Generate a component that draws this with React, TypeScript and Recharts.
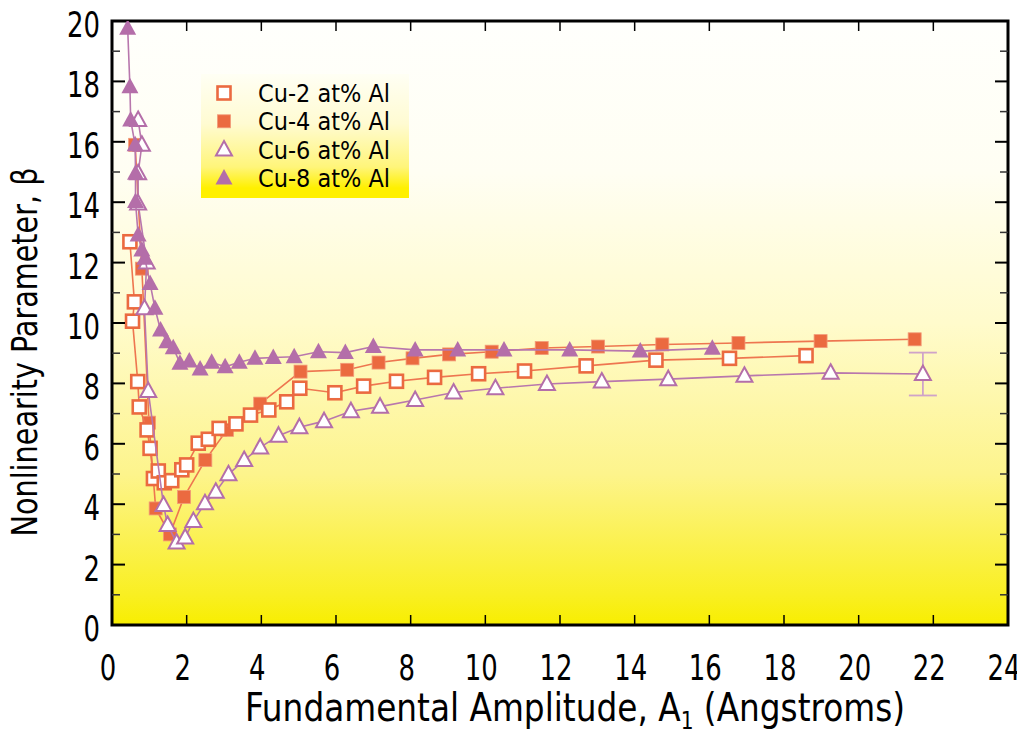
import React from 'react';
import { ScatterChart, Scatter, XAxis, YAxis, ReferenceArea, Legend, ErrorBar } from 'recharts';

const SERIES_NAMES = ['Cu-2 at% Al', 'Cu-4 at% Al', 'Cu-6 at% Al', 'Cu-8 at% Al'];
const X_TICKS = [0, 2, 4, 6, 8, 10, 12, 14, 16, 18, 20, 22, 24];
const Y_TICKS = [0, 1, 2, 3, 4, 5, 6, 7, 8, 9, 10, 11, 12, 13, 14, 15, 16, 17, 18, 19, 20];
const X_TITLE = 'Fundamental Amplitude, A';
const X_TITLE_SUB = '1';
const X_TITLE_END = ' (Angstroms)';
const Y_TITLE = 'Nonlinearity Parameter, β';

const cu2X = [0.48, 0.6, 0.55, 0.69, 0.73, 0.94, 1.02, 1.11, 1.24, 1.4, 1.6, 1.87, 2.0, 2.31, 2.58, 2.87, 3.32, 3.71, 4.2, 4.68, 5.03, 5.97, 6.74, 7.62, 8.64, 9.82, 11.05, 12.7, 14.57, 16.54, 18.59];
const cu2Y = [12.69, 10.7, 10.06, 8.06, 7.22, 6.46, 5.85, 4.85, 5.1, 4.71, 4.78, 5.14, 5.3, 6.02, 6.15, 6.51, 6.66, 6.95, 7.12, 7.39, 7.84, 7.69, 7.91, 8.07, 8.2, 8.32, 8.41, 8.58, 8.77, 8.83, 8.92];

const cu4X = [0.62, 0.8, 0.99, 1.17, 1.55, 1.93, 2.5, 3.08, 3.97, 5.05, 6.3, 7.14, 8.05, 9.03, 10.17, 11.51, 13.02, 14.74, 16.78, 18.98, 21.5];
const cu4Y = [15.9, 11.8, 6.7, 3.86, 3.0, 4.24, 5.46, 6.46, 7.33, 8.39, 8.45, 8.69, 8.83, 8.96, 9.05, 9.17, 9.22, 9.29, 9.34, 9.4, 9.46];

const cu6X = [0.7, 0.8, 0.7, 0.7, 0.93, 0.87, 0.97, 1.38, 1.49, 1.73, 1.96, 2.18, 2.49, 2.78, 3.12, 3.54, 3.97, 4.46, 5.02, 5.68, 6.4, 7.18, 8.12, 9.15, 10.27, 11.65, 13.12, 14.9, 16.94, 19.25, 21.72];
const cu6Y = [16.72, 15.9, 14.96, 13.96, 12.0, 10.49, 7.75, 3.97, 3.31, 2.73, 2.9, 3.44, 4.03, 4.41, 4.99, 5.46, 5.88, 6.27, 6.55, 6.75, 7.08, 7.23, 7.45, 7.7, 7.84, 7.98, 8.06, 8.14, 8.25, 8.35, 8.31];
const cu6LastErr = [0.71];

const cu8X = [0.42, 0.48, 0.5, 0.62, 0.63, 0.63, 0.7, 0.8, 0.88, 1.02, 1.15, 1.3, 1.47, 1.64, 1.82, 2.07, 2.36, 2.67, 3.03, 3.41, 3.83, 4.32, 4.88, 5.53, 6.25, 7.0, 8.12, 9.26, 10.5, 12.26, 14.15, 16.08];
const cu8Y = [19.76, 17.82, 16.72, 15.9, 14.96, 14.02, 12.91, 12.42, 12.14, 11.31, 10.49, 9.77, 9.38, 9.18, 8.67, 8.74, 8.48, 8.7, 8.55, 8.7, 8.83, 8.86, 8.88, 9.05, 9.02, 9.22, 9.11, 9.11, 9.11, 9.11, 9.07, 9.16];

const ORANGE = '#eb6a40';
const ORANGE_LINE = '#ee7650';
const PURPLE = '#b46ea9';
const PURPLE_LINE = '#b877ad';
const FONT = "'Liberation Sans Narrow', 'DejaVu Sans Condensed', 'Arial Narrow', sans-serif";

const toPts = (xs: number[], ys: number[]) => xs.map((x, i) => ({ x, y: ys[i] }));
const cu2 = toPts(cu2X, cu2Y);
const cu4 = toPts(cu4X, cu4Y);
const cu6 = cu6X.map((x, i) => ({ x, y: cu6Y[i], err: i === cu6X.length - 1 ? cu6LastErr[0] : undefined }));
const cu8 = toPts(cu8X, cu8Y);

const PLOT_W = 896;
const PLOT_H = 604;
const DIGIT_W = 16.5;

const OpenSquare = (p: any) => (
  <rect x={p.cx - 6.5} y={p.cy - 6.5} width={13} height={13} fill="#fff" stroke={ORANGE} strokeWidth={2.6} />
);
const FilledSquare = (p: any) => (
  <rect x={p.cx - 6.5} y={p.cy - 6.5} width={13} height={13} fill={ORANGE} stroke="#f29a78" strokeWidth={0.8} />
);
const OpenTriangle = (p: any) => (
  <path d={`M${p.cx},${p.cy - 8.5} L${p.cx + 8},${p.cy + 6} L${p.cx - 8},${p.cy + 6} Z`} fill="#fff" stroke={PURPLE} strokeWidth={2} strokeLinejoin="miter" />
);
const FilledTriangle = (p: any) => (
  <path d={`M${p.cx},${p.cy - 9} L${p.cx + 8.5},${p.cy + 6.5} L${p.cx - 8.5},${p.cy + 6.5} Z`} fill={PURPLE} />
);

const XTick = (props: any) => {
  const { x, y, payload } = props;
  const s = String(payload.value);
  return (
    <g>
      <line x1={x} y1={y} x2={x} y2={y - 10} stroke="#000" strokeWidth={1.5} />
      <line x1={x} y1={y - PLOT_H} x2={x} y2={y - PLOT_H + 10} stroke="#000" strokeWidth={1.5} />
      <text x={x - 4} y={y + 55} textAnchor="middle" fontFamily={FONT} fontSize={35} fill="#000" textLength={s.length * DIGIT_W} lengthAdjust="spacingAndGlyphs">
        {s}
      </text>
    </g>
  );
};

const YTick = (props: any) => {
  const { x, y, payload } = props;
  const major = payload.value % 2 === 0;
  const len = major ? 13 : 8;
  const s = String(payload.value);
  return (
    <g>
      <line x1={x} y1={y} x2={x + len} y2={y} stroke={major ? '#000' : '#333'} strokeWidth={major ? 2 : 1.5} />
      <line x1={x + PLOT_W} y1={y} x2={x + PLOT_W - len} y2={y} stroke={major ? '#000' : '#333'} strokeWidth={major ? 2 : 1.5} />
      {major ? (
        <text x={x - 12} y={y + 16} textAnchor="end" fontFamily={FONT} fontSize={35} fill="#000" textLength={s.length * DIGIT_W} lengthAdjust="spacingAndGlyphs">
          {s}
        </text>
      ) : null}
    </g>
  );
};

const XTitle = () => (
  <text x={237} y={713} fontFamily={FONT} fontSize={39} fill="#000" textLength={660} lengthAdjust="spacingAndGlyphs">
    <tspan>{X_TITLE}</tspan>
    <tspan fontSize={24} dy={8}>{X_TITLE_SUB}</tspan>
    <tspan dy={-8}>{X_TITLE_END}</tspan>
  </text>
);

const YTitle = () => (
  <text
    x={29}
    y={344}
    transform="rotate(-90, 29, 344)"
    textAnchor="middle"
    fontFamily={FONT}
    fontSize={36}
    fill="#000"
    textLength={369}
    lengthAdjust="spacingAndGlyphs"
  >
    {Y_TITLE}
  </text>
);

const LegendBox = () => {
  const rows = [
    (cx: number, cy: number) => <OpenSquare cx={cx} cy={cy} />,
    (cx: number, cy: number) => <FilledSquare cx={cx} cy={cy} />,
    (cx: number, cy: number) => <OpenTriangle cx={cx} cy={cy} />,
    (cx: number, cy: number) => <FilledTriangle cx={cx} cy={cy} />,
  ];
  return (
    <div
      style={{
        width: 208,
        height: 124,
        background: 'linear-gradient(180deg, #fffff4 0%, #fffbd2 40%, #fff57a 75%, #fff000 92%, #fff000 100%)',
      }}
    >
      <svg width={208} height={124}>
        {SERIES_NAMES.map((n, i) => {
          const cy = 19 + i * 28.3;
          return (
            <g key={n}>
              {rows[i](23, cy)}
              <text x={57} y={cy + 9} fontFamily={FONT} fontSize={25} fill="#000" textLength={132} lengthAdjust="spacingAndGlyphs">
                {n}
              </text>
            </g>
          );
        })}
      </svg>
    </div>
  );
};

export default function App() {
  return (
    <div style={{ width: 1017, height: 723 }}>
      <ScatterChart width={1017} height={723} margin={{ top: 13, right: 17, left: 14, bottom: 16 }}>
        <defs>
          <linearGradient id="plotbg" x1="0" y1="0" x2="0" y2="1">
            <stop offset="0" stopColor="#fffffc" />
            <stop offset="0.25" stopColor="#fffef3" />
            <stop offset="0.5" stopColor="#fffbcc" />
            <stop offset="0.75" stopColor="#fdf48c" />
            <stop offset="0.95" stopColor="#f9ef22" />
            <stop offset="1" stopColor="#f8ee00" />
          </linearGradient>
        </defs>
        <ReferenceArea x1={0} x2={24} y1={0} y2={20} fill="url(#plotbg)" fillOpacity={1} stroke="#000" strokeWidth={3} ifOverflow="visible" />
        <XAxis
          type="number"
          dataKey="x"
          domain={[0, 24]}
          ticks={X_TICKS}
          interval={0}
          allowDataOverflow
          axisLine={false}
          tickLine={false}
          tickSize={0}
          tickMargin={0}
          height={90}
          tick={<XTick />}
          label={<XTitle />}
        />
        <YAxis
          type="number"
          dataKey="y"
          domain={[0, 20]}
          ticks={Y_TICKS}
          interval={0}
          allowDataOverflow
          axisLine={false}
          tickLine={false}
          tickSize={0}
          tickMargin={0}
          width={90}
          tick={<YTick />}
          label={<YTitle />}
        />
        <Scatter name={SERIES_NAMES[1]} data={cu4} line={{ stroke: ORANGE_LINE, strokeWidth: 1.6 }} shape={<FilledSquare />} isAnimationActive={false} />
        <Scatter name={SERIES_NAMES[0]} data={cu2} line={{ stroke: ORANGE_LINE, strokeWidth: 1.6 }} shape={<OpenSquare />} isAnimationActive={false} />
        <Scatter name={SERIES_NAMES[2]} data={cu6} line={{ stroke: PURPLE_LINE, strokeWidth: 1.6 }} shape={<OpenTriangle />} isAnimationActive={false}>
          <ErrorBar dataKey="err" direction="y" width={14} stroke="#cfa3c9" strokeWidth={1.8} />
        </Scatter>
        <Scatter name={SERIES_NAMES[3]} data={cu8} line={{ stroke: PURPLE_LINE, strokeWidth: 1.6 }} shape={<FilledTriangle />} isAnimationActive={false} />
        <Legend
          layout="vertical"
          align="center"
          verticalAlign="middle"
          content={() => <LegendBox />}
          wrapperStyle={{ left: 193, top: 66, width: 208, height: 124 }}
        />
      </ScatterChart>
    </div>
  );
}
